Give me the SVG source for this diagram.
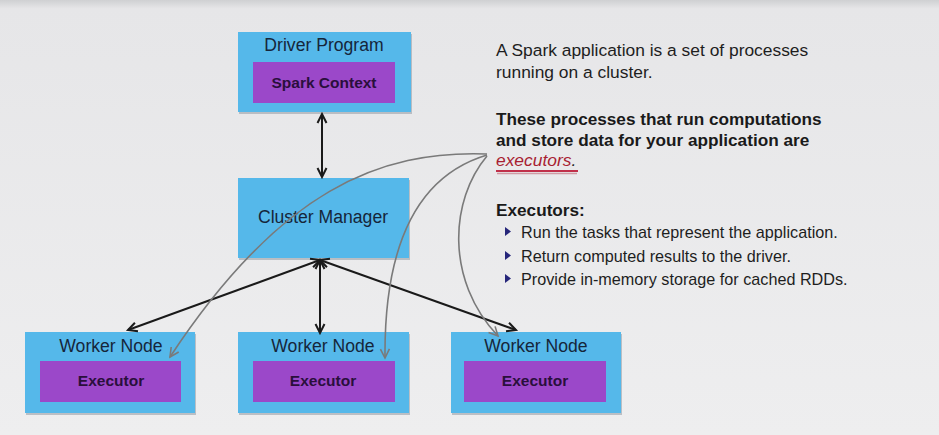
<svg xmlns="http://www.w3.org/2000/svg" width="939" height="435" viewBox="0 0 939 435">
<defs>
<linearGradient id="bg" x1="0" y1="0" x2="0" y2="1">
<stop offset="0" stop-color="#cfd0d2"/>
<stop offset="0.02" stop-color="#e6e6e8"/>
<stop offset="1" stop-color="#eeeeef"/>
</linearGradient>
<marker id="bh" viewBox="0 0 12 12" refX="10" refY="6" markerWidth="12" markerHeight="12" markerUnits="userSpaceOnUse" orient="auto-start-reverse">
<path d="M1,1.5 L10,6 L1,10.5" fill="none" stroke="#1a1a1a" stroke-width="2"/>
</marker>
<marker id="gh" viewBox="0 0 12 12" refX="10" refY="6" markerWidth="12" markerHeight="12" markerUnits="userSpaceOnUse" orient="auto">
<path d="M1,1.5 L10,6 L1,10.5" fill="none" stroke="#7a7a7a" stroke-width="1.6"/>
</marker>
</defs>
<style>
.outer{fill:#55b8ea;}
.inner{fill:#9b48c9;}
.sh{fill:#9aa0a8;opacity:0.6;}
.lbl{font-family:"Liberation Sans",Arial,sans-serif;font-size:17.6px;fill:#15263a;text-anchor:middle;}
.ilbl{font-family:"Liberation Sans",Arial,sans-serif;font-size:15.5px;font-weight:bold;fill:#2a0f3c;text-anchor:middle;}
.t{font-family:"Liberation Sans",Arial,sans-serif;font-size:17.4px;fill:#1e1e1e;}
.tb{font-family:"Liberation Sans",Arial,sans-serif;font-size:17.2px;font-weight:bold;fill:#1a1a1a;}
.tr{font-family:"Liberation Sans",Arial,sans-serif;font-size:16.2px;fill:#1e1e1e;}
.blk{fill:none;stroke:#1a1a1a;stroke-width:2;}
.gry{fill:none;stroke:#7a7a7a;stroke-width:1.6;}
.bul{fill:#26267a;}
</style>
<rect x="0" y="0" width="939" height="435" fill="url(#bg)"/>

<g id="driver">
<rect class="sh" x="239" y="34" width="173" height="80"/>
<rect class="outer" x="238" y="32" width="173" height="80"/>
<rect class="inner" x="253" y="62" width="142" height="41"/>
<text class="lbl" x="324" y="51">Driver Program</text>
<text class="ilbl" x="324" y="88">Spark Context</text>
</g>

<g id="cluster">
<rect class="sh" x="239" y="180" width="171" height="80"/>
<rect class="outer" x="238" y="178" width="171" height="80"/>
<text class="lbl" x="323" y="223">Cluster Manager</text>
</g>

<g id="worker1">
<rect class="sh" x="26" y="334" width="170" height="81"/>
<rect class="outer" x="25" y="332" width="170" height="81"/>
<rect class="inner" x="40" y="361" width="141" height="41"/>
<text class="lbl" x="111" y="352">Worker Node</text>
<text class="ilbl" x="111" y="386">Executor</text>
</g>

<g id="worker2">
<rect class="sh" x="239" y="334" width="171" height="81"/>
<rect class="outer" x="238" y="332" width="171" height="81"/>
<rect class="inner" x="253" y="361" width="142" height="41"/>
<text class="lbl" x="323" y="352">Worker Node</text>
<text class="ilbl" x="323" y="386">Executor</text>
</g>

<g id="worker3">
<rect class="sh" x="452" y="334" width="170" height="81"/>
<rect class="outer" x="451" y="332" width="170" height="81"/>
<rect class="inner" x="464" y="361" width="142" height="41"/>
<text class="lbl" x="536" y="352">Worker Node</text>
<text class="ilbl" x="535" y="386">Executor</text>
</g>

<g id="connectors">
<line class="blk" x1="322" y1="114" x2="322" y2="177" marker-start="url(#bh)" marker-end="url(#bh)"/>
<line class="blk" x1="320" y1="260" x2="128" y2="330" marker-start="url(#bh)" marker-end="url(#bh)"/>
<line class="blk" x1="320" y1="260" x2="320" y2="333" marker-start="url(#bh)" marker-end="url(#bh)"/>
<line class="blk" x1="320" y1="260" x2="516" y2="330" marker-start="url(#bh)" marker-end="url(#bh)"/>
<path class="gry" d="M487,154 C380,150 280,190 170,357" marker-end="url(#gh)"/>
<path class="gry" d="M487,155 C420,175 384,240 385,358" marker-end="url(#gh)"/>
<path class="gry" d="M487,156 C450,200 445,280 498,336" marker-end="url(#gh)"/>
</g>

<g id="notes">
<text class="t" x="496" y="56">A Spark application is a set of processes</text>
<text class="t" x="496" y="78">running on a cluster.</text>
<text class="tb" x="496" y="125">These processes that run computations</text>
<text class="tb" x="496" y="146">and store data for your application are</text>
<text class="t" x="496" y="166" font-style="italic" style="fill:#a81e32">executors<tspan style="fill:#1e1e1e">.</tspan></text>
<line x1="496" y1="171" x2="578" y2="171" stroke="#c0304a" stroke-width="2.2"/>
<line x1="497" y1="173.5" x2="577" y2="173.5" stroke="#d09aa4" stroke-width="1.4"/>
<text class="tb" x="496" y="216">Executors:</text>
<polygon class="bul" points="505,227 511,231.5 505,236"/>
<text class="tr" x="521" y="238">Run the tasks that represent the application.</text>
<polygon class="bul" points="505,251 511,255.5 505,260"/>
<text class="tr" x="521" y="262">Return computed results to the driver.</text>
<polygon class="bul" points="505,274 511,278.5 505,283"/>
<text class="tr" x="521" y="285">Provide in-memory storage for cached RDDs.</text>
</g>
</svg>
